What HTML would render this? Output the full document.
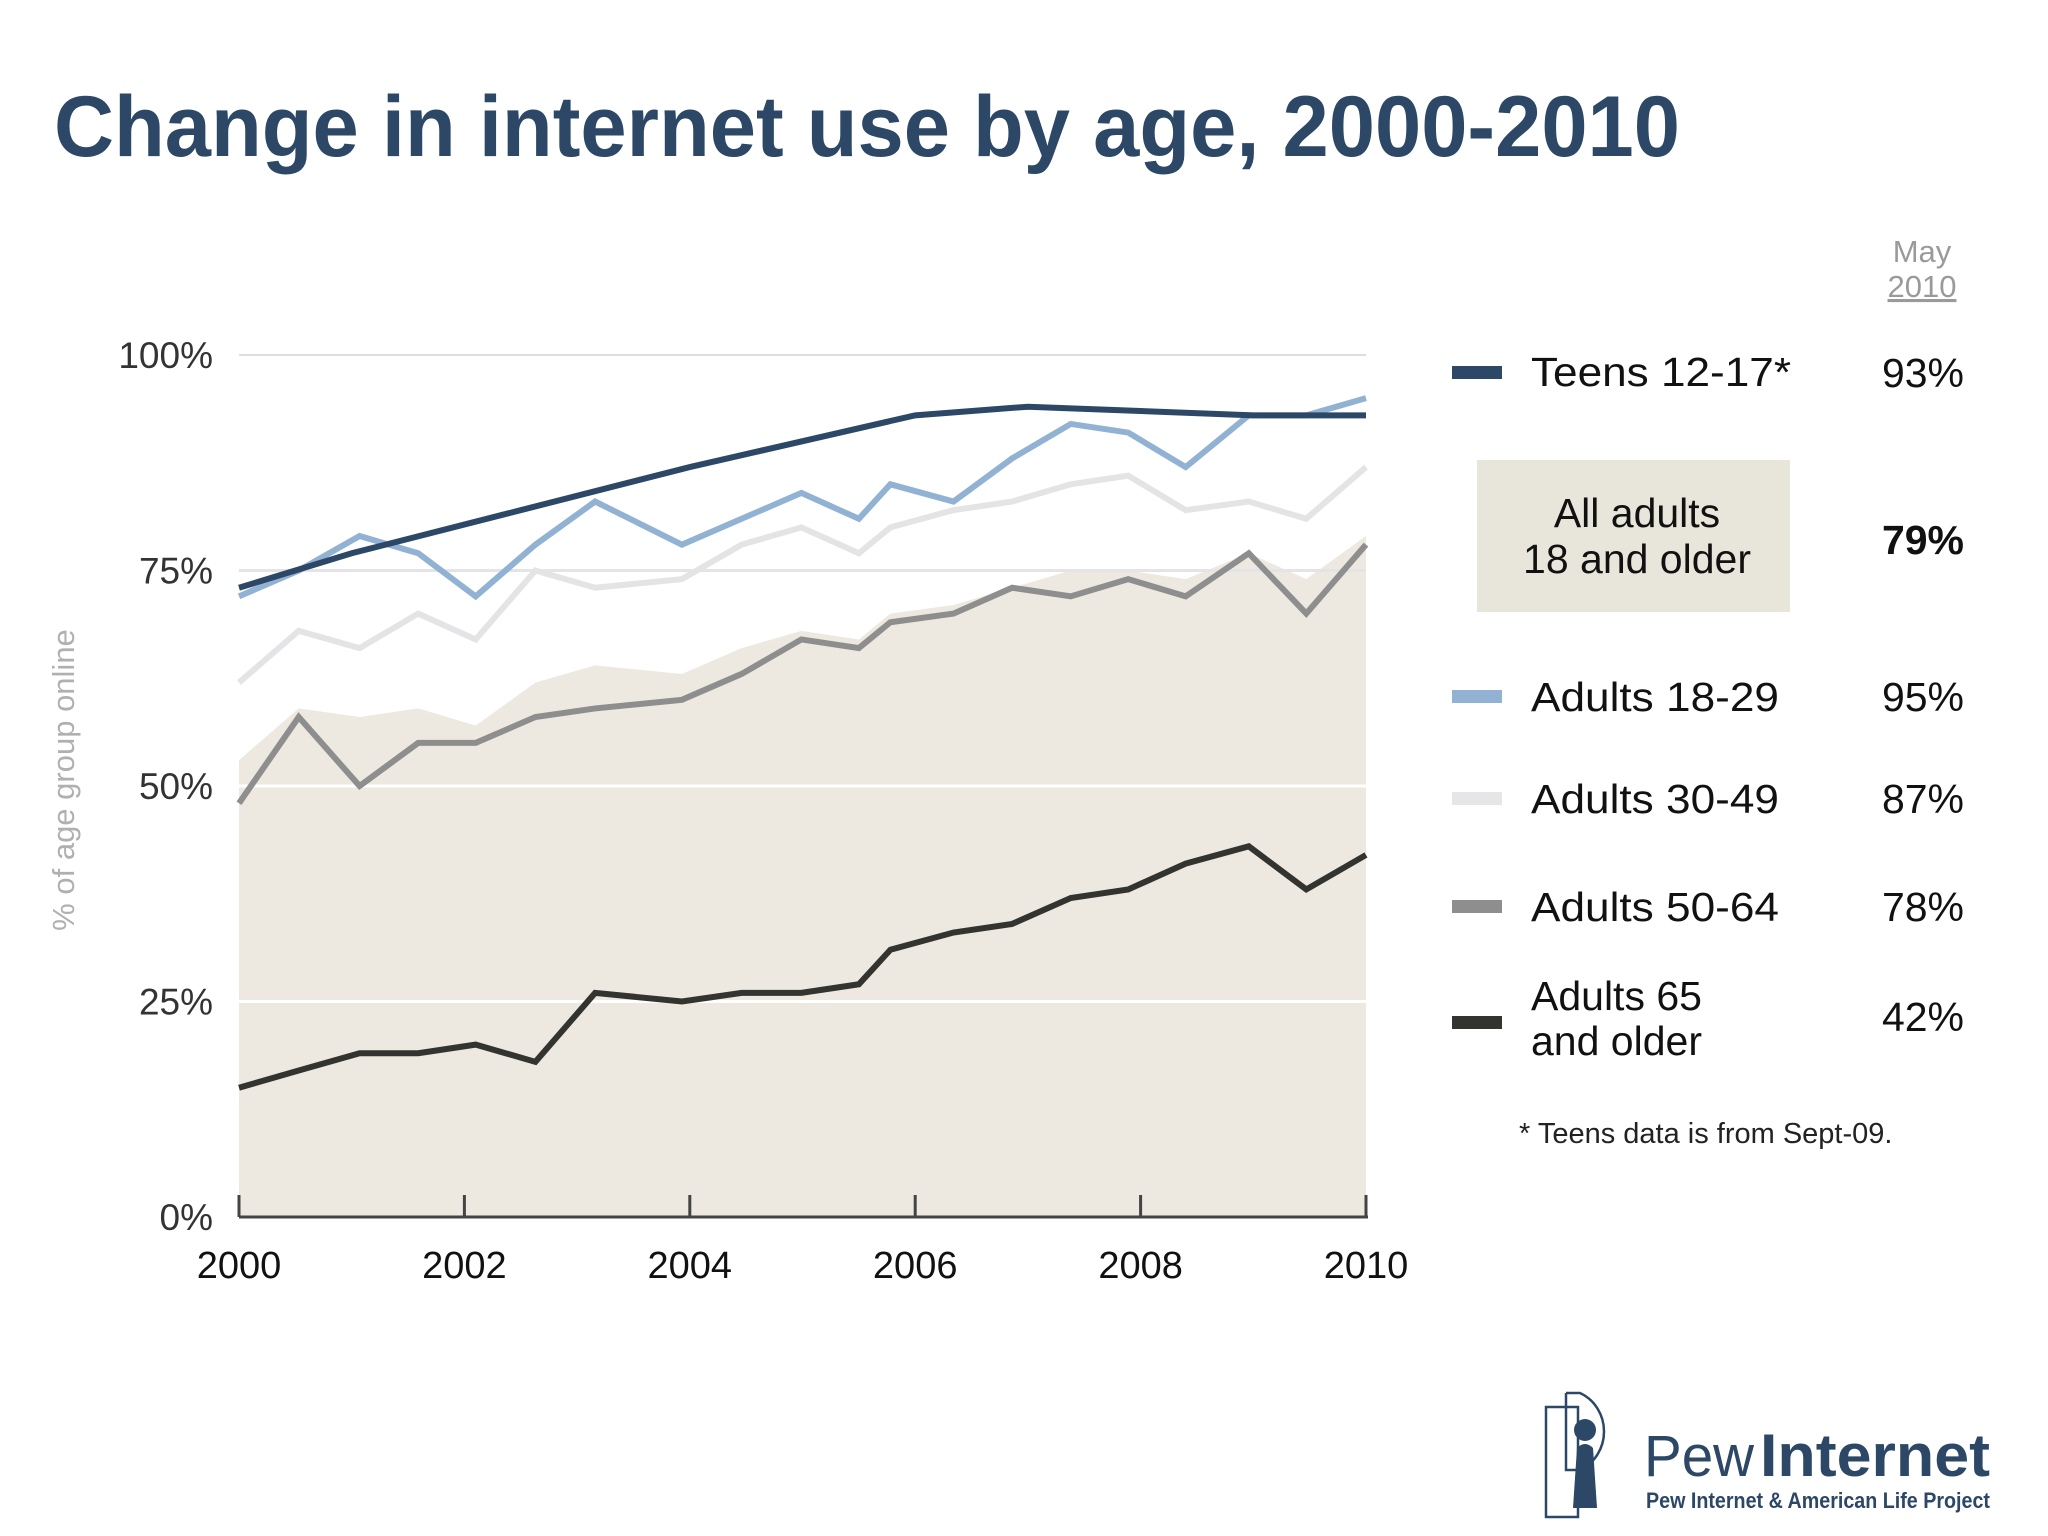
<!DOCTYPE html>
<html><head><meta charset="utf-8"><style>
body{margin:0;background:#fff;}
svg{display:block;font-family:"Liberation Sans",Arial,sans-serif;}
</style></head><body>
<svg id="chart" width="2048" height="1536" viewBox="0 0 2048 1536" xmlns="http://www.w3.org/2000/svg">
<rect width="2048" height="1536" fill="#fff"/>
<text x="54" y="156" font-size="86" font-weight="bold" fill="#2c4866" textLength="1626" lengthAdjust="spacingAndGlyphs">Change in internet use by age, 2000-2010</text>
<g id="plot"></g>
<text transform="translate(74,780) rotate(-90)" text-anchor="middle" font-size="31" fill="#b0b0b0">% of age group online</text>

<text x="1922" y="262" text-anchor="middle" font-size="31" fill="#9a9a9a">May</text>
<text x="1922" y="297" text-anchor="middle" font-size="31" fill="#9a9a9a" text-decoration="underline">2010</text>

<g>
<rect x="1452" y="366" width="50" height="13" fill="#2c4866"/>
<text x="1531" y="386" font-size="41" fill="#111" textLength="260" lengthAdjust="spacingAndGlyphs">Teens 12-17*</text>
<text x="1964" y="387" text-anchor="end" font-size="41" fill="#111">93%</text></g>
<g>
<rect x="1477" y="460" width="313" height="152" fill="#e8e5da"/>
<text x="1637" y="527" text-anchor="middle" font-size="41" fill="#111">All adults</text>
<text x="1637" y="573" text-anchor="middle" font-size="41" fill="#111">18 and older</text>
<text x="1964" y="554" text-anchor="end" font-size="41" font-weight="bold" fill="#111">79%</text></g>
<g>
<rect x="1452" y="690" width="50" height="13" fill="#92b2d4"/>
<text x="1531" y="711" font-size="41" fill="#111" textLength="248" lengthAdjust="spacingAndGlyphs">Adults 18-29</text>
<text x="1964" y="711" text-anchor="end" font-size="41" fill="#111">95%</text></g>
<g>
<rect x="1452" y="792" width="50" height="13" fill="#e6e6e8"/>
<text x="1531" y="813" font-size="41" fill="#111" textLength="248" lengthAdjust="spacingAndGlyphs">Adults 30-49</text>
<text x="1964" y="813" text-anchor="end" font-size="41" fill="#111">87%</text></g>
<g>
<rect x="1452" y="900" width="50" height="13" fill="#8e8e8e"/>
<text x="1531" y="921" font-size="41" fill="#111" textLength="248" lengthAdjust="spacingAndGlyphs">Adults 50-64</text>
<text x="1964" y="921" text-anchor="end" font-size="41" fill="#111">78%</text></g>
<g>
<rect x="1452" y="1016" width="50" height="13" fill="#333330"/>
<text x="1531" y="1010" font-size="41" fill="#111">Adults 65</text>
<text x="1531" y="1055" font-size="41" fill="#111">and older</text>
<text x="1964" y="1031" text-anchor="end" font-size="41" fill="#111">42%</text></g>
<text x="1519" y="1143" font-size="29" fill="#222">* Teens data is from Sept-09.</text>

<g>
<rect x="1546" y="1407" width="32" height="110" fill="none" stroke="#2c4866" stroke-width="2.5"/>
<path d="M1566 1393 L1566 1470 L1578 1470 M1566 1393 L1580 1393 A40 42 0 0 1 1580 1470" fill="none" stroke="#2c4866" stroke-width="2.5"/>
<circle cx="1585" cy="1430" r="11" fill="#2c4866"/>
<path d="M1577 1448 Q1585 1440 1593 1448 L1597 1508 L1573 1508 Z" fill="#2c4866"/>
<text x="1644" y="1476" font-size="58" fill="#2c4866" textLength="110" lengthAdjust="spacingAndGlyphs">Pew</text>
<text x="1760" y="1476" font-size="60" font-weight="bold" fill="#2c4866" textLength="230" lengthAdjust="spacingAndGlyphs">Internet</text>
<text x="1646" y="1508" font-size="22" font-weight="bold" fill="#2c4866" textLength="344" lengthAdjust="spacingAndGlyphs">Pew Internet &amp; American Life Project</text>
</g>
</svg>
<script>
const dates = [2000,2000.53,2001.07,2001.59,2002.1,2002.63,2003.16,2003.93,2004.46,2004.99,2005.5,2005.78,2006.34,2006.86,2007.38,2007.89,2008.4,2008.96,2009.47,2010];
const allAdults = [53,59,58,59,57,62,64,63,66,68,67,70,71,73,75,75,74,77,74,79];
const adults18_29 = [72,75,79,77,72,78,83,78,81,84,81,85,83,88,92,91,87,93,93,95];
const adults30_49 = [62,68,66,70,67,75,73,74,78,80,77,80,82,83,85,86,82,83,81,87];
const adults50_64 = [48,58,50,55,55,58,59,60,63,67,66,69,70,73,72,74,72,77,70,78];
const adults65 = [15,17,19,19,20,18,26,25,26,26,27,31,33,34,37,38,41,43,38,42];
const teenDates = [2000,2001,2004,2006,2007,2008,2009,2010];
const teens = [73,77,87,93,94,93.5,93,93];
const yTicks = [0,25,50,75,100];
const yTickLabels = ["0%","25%","50%","75%","100%"];
const xTicks = [2000,2002,2004,2006,2008,2010];

const NS="http://www.w3.org/2000/svg";
const X0=239,X1=1366,Y0=1217,Y100=355;
const xs=d=>X0+(d-2000)/10*(X1-X0);
const ys=v=>Y0-v/100*(Y0-Y100);
const plot=document.getElementById('plot');
function mk(tag,attrs){const e=document.createElementNS(NS,tag);for(const k in attrs)e.setAttribute(k,attrs[k]);plot.appendChild(e);return e;}

let gl=mk('line',{x1:X0,x2:X1,y1:ys(100),y2:ys(100),stroke:'#dcdde3','stroke-width':2});



let ad='M'+xs(dates[0])+','+Y0;
dates.forEach((d,i)=>{ad+=' L'+xs(d)+','+ys(allAdults[i]);});
ad+=' L'+xs(dates[dates.length-1])+','+Y0+' Z';
let area=mk('path',{d:ad,fill:'#ede9e0'});



yTicks.forEach((t,i)=>{
  if(t>0&&t<100){
    let g=mk('line',{x1:X0,x2:X1,y1:ys(t),y2:ys(t),stroke:t==75?'#e4e4e8':'#ffffff','stroke-width':3});
    
    
  }
  let tx=mk('text',{x:213,y:ys(t)+13,'text-anchor':'end','font-size':37,fill:'#333'});
  tx.textContent=yTickLabels[i];
  
  
});

function line(dd,vals,color,name){
  let p=mk('polyline',{points:dd.map((d,i)=>xs(d)+','+ys(vals[i])).join(' '),fill:'none',stroke:color,'stroke-width':6,'stroke-linejoin':'miter'});
  
  
}
line(dates,adults30_49,'#e4e4e6','line-adults-30-49');
line(dates,adults50_64,'#8e8e8e','line-adults-50-64');
line(dates,adults65,'#333330','line-adults-65-plus');
line(dates,adults18_29,'#92b2d4','line-adults-18-29');
line(teenDates,teens,'#2c4866','line-teens');

let ax=mk('line',{x1:X0,x2:X1+2,y1:Y0,y2:Y0,stroke:'#444','stroke-width':3});


xTicks.forEach(t=>{
  let tk=mk('line',{x1:xs(t),x2:xs(t),y1:Y0,y2:Y0-22,stroke:'#444','stroke-width':3});
  
  
  let tx=mk('text',{x:xs(t),y:Y0+61,'text-anchor':'middle','font-size':38,fill:'#111'});
  tx.textContent=t;
  
  
});
</script>
</body></html>
